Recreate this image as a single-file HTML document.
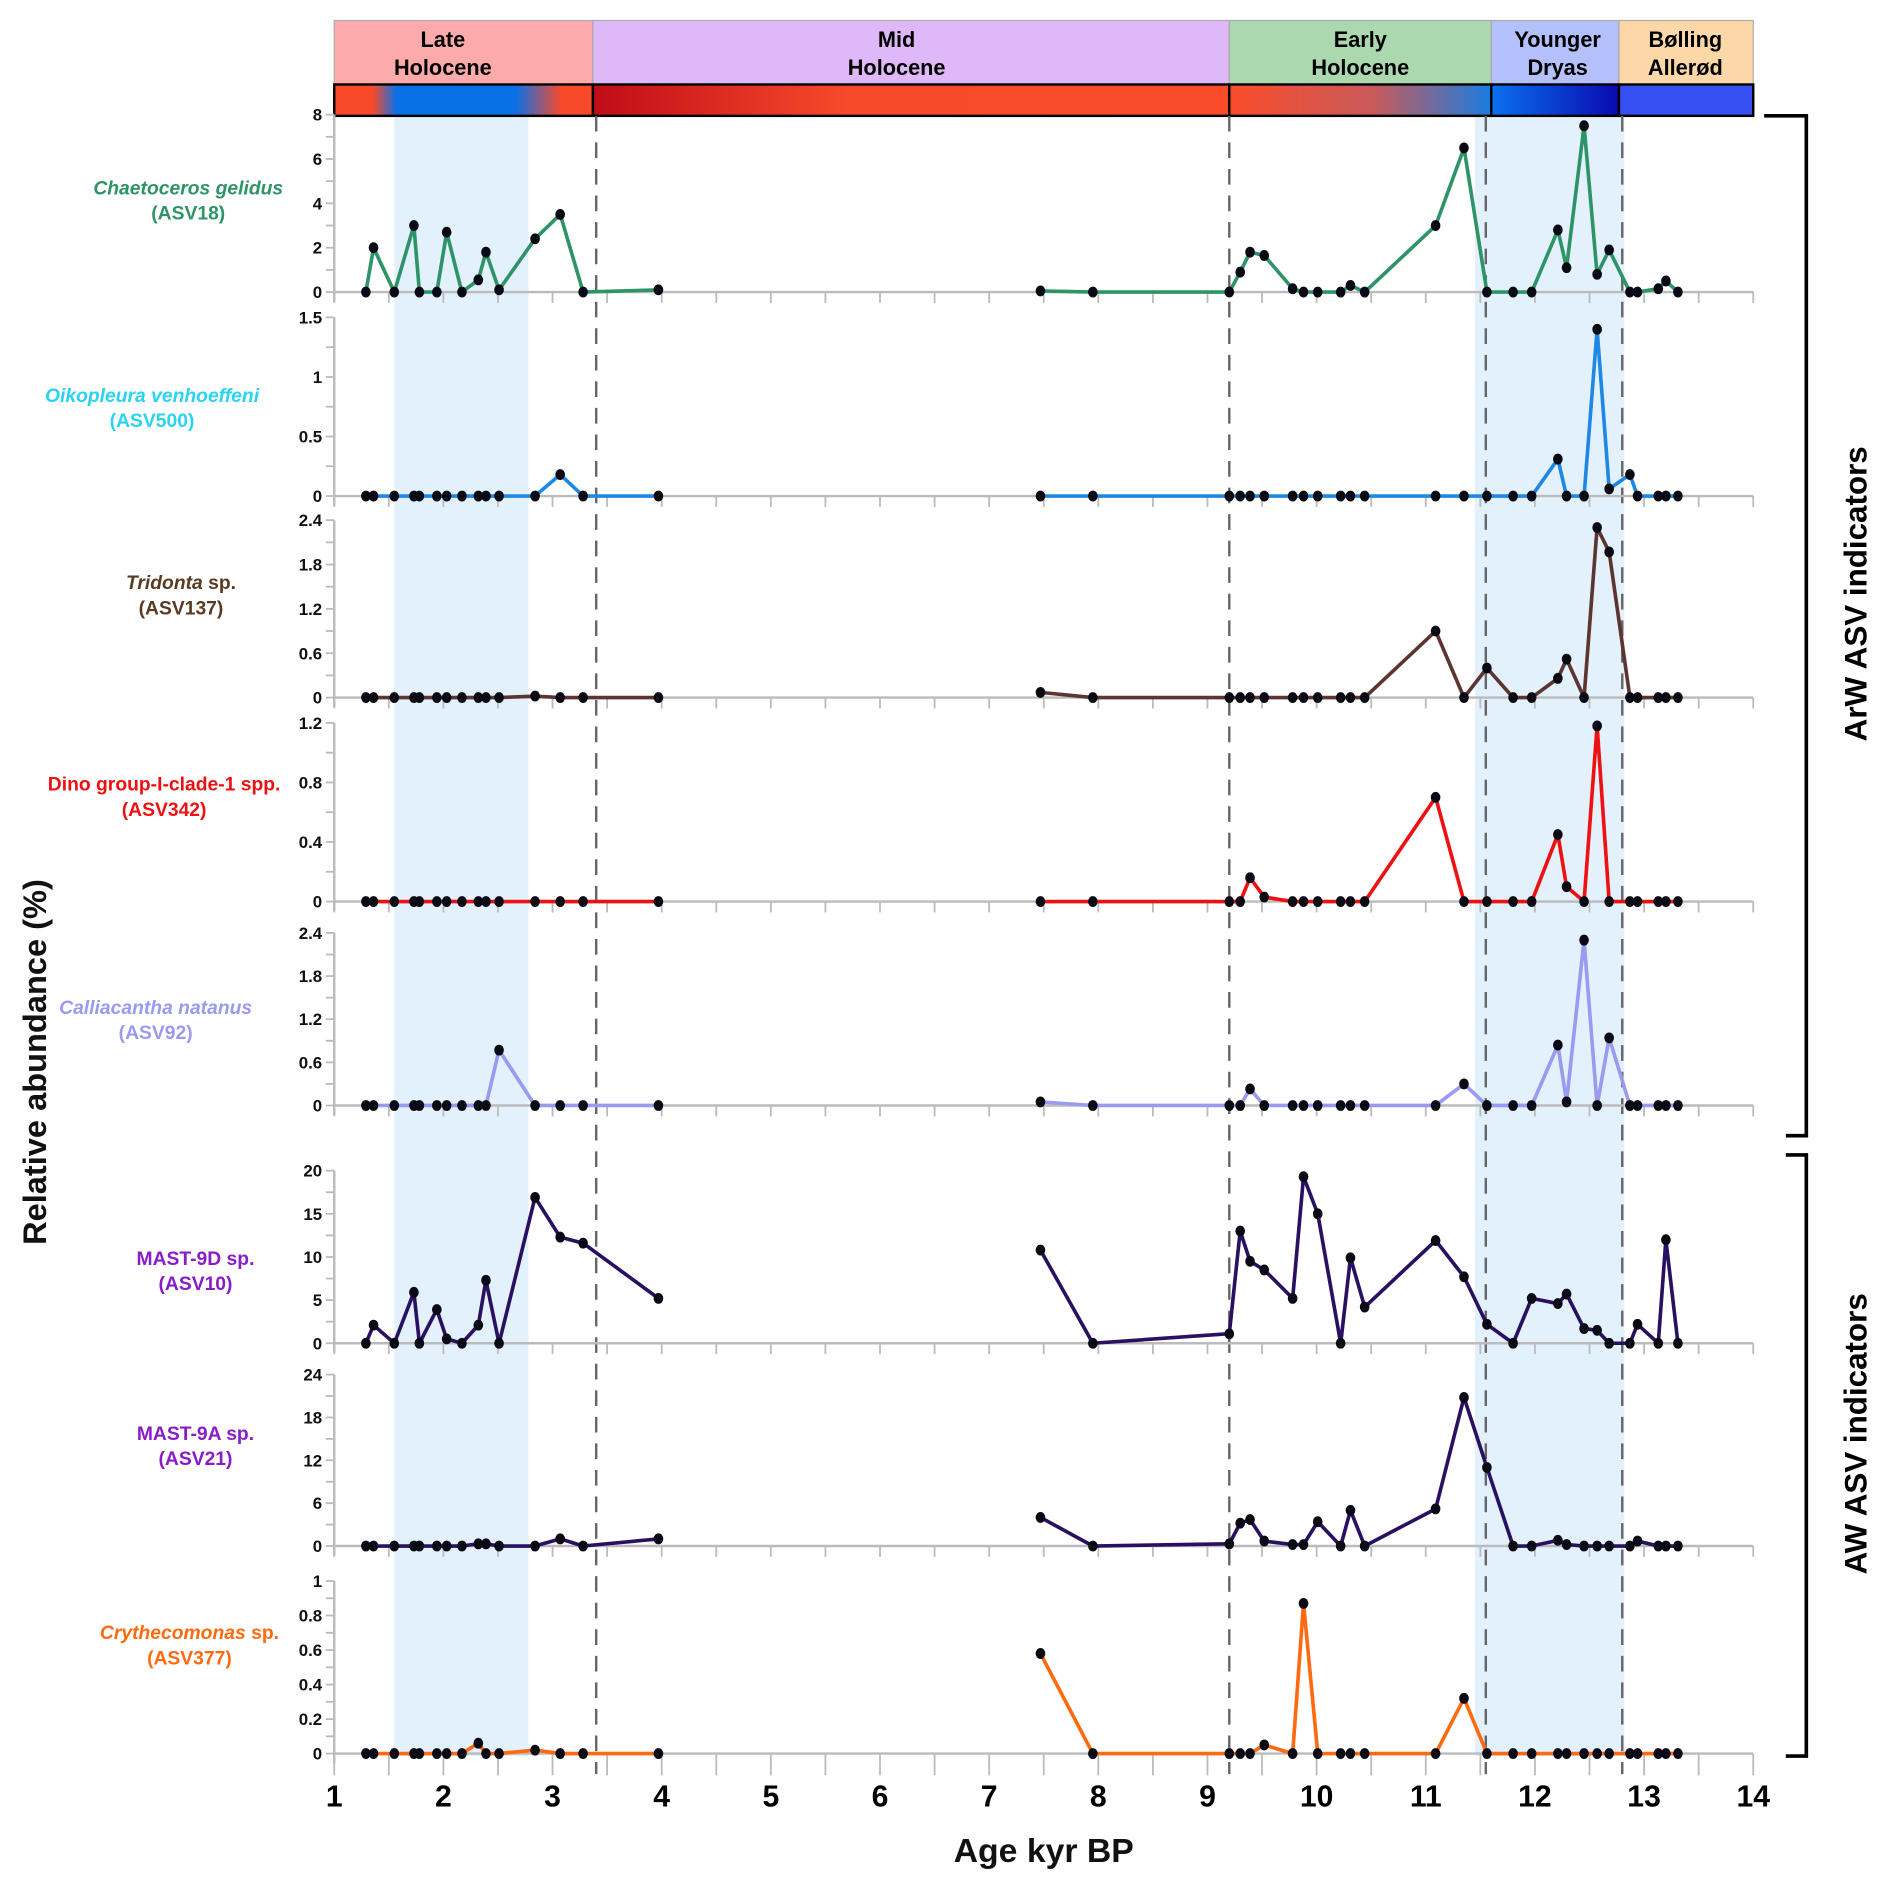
<!DOCTYPE html>
<html><head><meta charset="utf-8"><style>
html,body{margin:0;padding:0;background:#fff}
svg{display:block;font-family:"Liberation Sans",Arial,sans-serif;font-weight:bold}
</style></head><body>
<svg id="chart" width="1892" height="1896" viewBox="0 0 1568 1571" preserveAspectRatio="none" xmlns="http://www.w3.org/2000/svg">
<defs>
<linearGradient id="gLate" x1="0" x2="1"><stop offset="0.15" stop-color="#f84a2a"/><stop offset="0.24" stop-color="#0a70e8"/><stop offset="0.7" stop-color="#0a70e8"/><stop offset="0.88" stop-color="#f84a2a"/></linearGradient>
<linearGradient id="gMid" x1="0" x2="1"><stop offset="0" stop-color="#c00c18"/><stop offset="0.4" stop-color="#f84a2a"/><stop offset="1" stop-color="#fa4c2a"/></linearGradient>
<linearGradient id="gEarly" x1="0" x2="1"><stop offset="0" stop-color="#fa4c2a"/><stop offset="0.55" stop-color="#c85a5a"/><stop offset="1" stop-color="#1a7ce0"/></linearGradient>
<linearGradient id="gYD" x1="0" x2="1"><stop offset="0" stop-color="#0a70f0"/><stop offset="1" stop-color="#0a0ab0"/></linearGradient>
</defs>
<g id="plot"></g>
</svg>
<script>
const ages=[1.29,1.36,1.55,1.73,1.78,1.94,2.03,2.17,2.32,2.39,2.51,2.84,3.07,3.28,3.97,7.47,7.95,9.20,9.30,9.39,9.52,9.78,9.88,10.01,10.22,10.31,10.44,11.09,11.35,11.56,11.80,11.97,12.21,12.29,12.45,12.57,12.68,12.87,12.94,13.13,13.20,13.31];
const chaetoceros=[0,2.0,0,3.0,0,0,2.7,0,0.55,1.8,0.1,2.4,3.5,0,0.1,0.05,0,0,0.9,1.8,1.65,0.15,0,0,0,0.3,0,3.0,6.5,0,0,0,2.8,1.1,7.5,0.8,1.9,0,0,0.15,0.5,0];
const oikopleura=[0,0,0,0,0,0,0,0,0,0,0,0,0.18,0,0,0,0,0,0,0,0,0,0,0,0,0,0,0,0,0,0,0,0.31,0,0,1.4,0.06,0.18,0,0,0,0];
const tridonta=[0,0,0,0,0,0,0,0,0,0,0,0.02,0,0,0,0.07,0,0,0,0,0,0,0,0,0,0,0,0.9,0,0.4,0,0,0.26,0.52,0,2.3,1.97,0,0,0,0,0];
const dino=[0,0,0,0,0,0,0,0,0,0,0,0,0,0,0,0,0,0,0,0.16,0.03,0,0,0,0,0,0,0.7,0,0,0,0,0.45,0.1,0,1.18,0,0,0,0,0,0];
const calliacantha=[0,0,0,0,0,0,0,0,0,0,0.77,0,0,0,0,0.05,0,0,0,0.23,0,0,0,0,0,0,0,0,0.3,0,0,0,0.84,0.05,2.3,0,0.94,0,0,0,0,0];
const mast9d=[0,2.1,0,5.9,0,3.9,0.5,0,2.1,7.3,0,16.9,12.3,11.6,5.2,10.8,0,1.1,13,9.5,8.5,5.2,19.3,15,0,9.9,4.2,11.9,7.7,2.2,0,5.2,4.6,5.7,1.7,1.5,0,0,2.2,0,12,0];
const mast9a=[0,0,0,0,0,0,0,0,0.3,0.3,0,0,1.0,0,1.0,4,0,0.3,3.2,3.7,0.7,0.2,0.2,3.4,0,5,0,5.2,20.8,11,0,0,0.8,0.2,0,0,0,0,0.7,0,0,0];
const cryth=[0,0,0,0,0,0,0,0,0.06,0,0,0.02,0,0,0,0.58,0,0,0,0,0.05,0,0.87,0,0,0,0,0,0.32,0,0,0,0,0,0,0,0,0,0,0,0,0];
const xTicks=[1,2,3,4,5,6,7,8,9,10,11,12,13,14];
const gapAfterAge=3.97;

const NS="http://www.w3.org/2000/svg";
const g=document.getElementById('plot');
const X=a=>277+(a-1)*(1176/13);
function el(tag,attrs,parent){const e=document.createElementNS(NS,tag);for(const k in attrs)e.setAttribute(k,attrs[k]);(parent||g).appendChild(e);return e;}
function txt(s,attrs,parent){const e=el('text',attrs,parent);e.textContent=s;return e;}

let r;
r=el('rect',{x:X(1.55),y:96,width:X(2.78)-X(1.55),height:1359,fill:'#e3f1fd'});


r=el('rect',{x:X(11.45),y:96,width:X(12.82)-X(11.45),height:1359,fill:'#e3f1fd'});



const periods=[["Late","Holocene",1,3.37,'#fdaaaa','url(#gLate)'],["Mid","Holocene",3.37,9.2,'#deb8f8','url(#gMid)'],["Early","Holocene",9.2,11.6,'#acd8b0','url(#gEarly)'],["Younger","Dryas",11.6,12.77,'#b4c0fa','url(#gYD)'],["Bølling","Allerød",12.77,14,'#fcd8a8','#3650f2']];
periods.forEach((p,i)=>{
  const x0=X(p[2]),x1=X(p[3]);
  const hg=el('g',{});
  
  
  el('rect',{x:x0,y:17,width:x1-x0,height:53,fill:p[4],stroke:'#aaa','stroke-width':1},hg);
  el('rect',{x:x0,y:70,width:x1-x0,height:26,fill:p[5],stroke:'#000','stroke-width':2},hg);
  const cx=i==3?x0+55:i==4?x0+55:(i==0?x0+90:(x0+x1)/2+(i==2?0:-12));
  txt(p[0],{x:cx,y:39,'text-anchor':'middle','font-size':18},hg);
  txt(p[1],{x:cx,y:62,'text-anchor':'middle','font-size':18},hg);
});

[3.4,9.2,11.55,12.8].forEach(a=>{
  const l=el('line',{x1:X(a),x2:X(a),y1:96,y2:1470,stroke:'#666','stroke-width':2,'stroke-dasharray':'13,9'});
  
  
});

const panels=[
 {name:'chaetoceros',d:chaetoceros,y0:242,y1:95,max:8,ticks:[0,2,4,6,8],col:'#2e9467',lc:'#2e9467',l1:'Chaetoceros gelidus',l2:'(ASV18)',it:true,lx:156,ly:161},
 {name:'oikopleura',d:oikopleura,y0:411,y1:263,max:1.5,ticks:[0,0.5,1,1.5],col:'#1e88e5',lc:'#2ad4f0',l1:'Oikopleura venhoeffeni',l2:'(ASV500)',it:true,lx:126,ly:333},
 {name:'tridonta',d:tridonta,y0:578,y1:431,max:2.4,ticks:[0,0.6,1.2,1.8,2.4],col:'#5c3430',lc:'#5a3a20',l1:'Tridonta',l1b:' sp.',l2:'(ASV137)',it:true,lx:150,ly:488},
 {name:'dino',d:dino,y0:747,y1:599,max:1.2,ticks:[0,0.4,0.8,1.2],col:'#ee1111',lc:'#ee1111',l1:'Dino group-I-clade-1 spp.',l2:'(ASV342)',it:false,lx:136,ly:655},
 {name:'calliacantha',d:calliacantha,y0:916,y1:773,max:2.4,ticks:[0,0.6,1.2,1.8,2.4],col:'#9a9af0',lc:'#9a9af0',l1:'Calliacantha natanus',l2:'(ASV92)',it:true,lx:129,ly:840},
 {name:'mast9d',d:mast9d,y0:1113,y1:970,max:20,ticks:[0,5,10,15,20],col:'#2a1060',lc:'#8a1cc8',l1:'MAST-9D sp.',l2:'(ASV10)',it:false,lx:162,ly:1048},
 {name:'mast9a',d:mast9a,y0:1281,y1:1139,max:24,ticks:[0,6,12,18,24],col:'#2a1060',lc:'#8a1cc8',l1:'MAST-9A sp.',l2:'(ASV21)',it:false,lx:162,ly:1193},
 {name:'crythecomonas',d:cryth,y0:1453,y1:1310,max:1,ticks:[0,0.2,0.4,0.6,0.8,1],col:'#ff6a10',lc:'#ff6a10',l1:'Crythecomonas',l1b:' sp.',l2:'(ASV377)',it:true,lx:157,ly:1358}
];
panels.forEach((p,pi)=>{
  const Y=v=>p.y0-(v/p.max)*(p.y0-p.y1);
  const pg=el('g',{});
  
  
  el('line',{x1:277,x2:1453,y1:p.y0,y2:p.y0,stroke:'#bbb','stroke-width':2},pg);
  el('line',{x1:277,x2:277,y1:p.y1,y2:p.y0+8,stroke:'#bbb','stroke-width':2},pg);
  const last=pi==panels.length-1;
  for(let a=1;a<=14.001;a+=0.5){el('line',{x1:X(a),x2:X(a),y1:p.y0,y2:p.y0+(last?18:9),stroke:'#bbb','stroke-width':1.5},pg);}
  const step=p.ticks[1]-p.ticks[0];
  for(let v=0;v<=p.max+1e-9;v+=step/2){el('line',{x1:270,x2:277,y1:Y(v),y2:Y(v),stroke:'#bbb','stroke-width':1.5},pg);}
  p.ticks.forEach(v=>{
    const t=txt(String(v),{x:267,y:Y(v)+5,'text-anchor':'end','font-size':14,fill:'#111'},pg);
    
    
  });
  const t1=txt('',{x:p.lx,y:p.ly,'text-anchor':'middle','font-size':16,fill:p.lc},pg);
  
  
  const s1=el('tspan',{'font-style':p.it?'italic':'normal'},t1);s1.textContent=p.l1;
  if(p.l1b){const s2=el('tspan',{},t1);s2.textContent=p.l1b;}
  txt(p.l2,{x:p.lx,y:p.ly+21,'text-anchor':'middle','font-size':16,fill:p.lc},pg);
  // line segments with gap in record
  const segs=[[],[]];
  ages.forEach((a,i)=>{segs[a<=gapAfterAge?0:1].push(X(a).toFixed(1)+','+Y(p.d[i]).toFixed(1));});
  segs.forEach(s=>{
    const pl=el('polyline',{points:s.join(' '),fill:'none',stroke:p.col,'stroke-width':3,'stroke-linejoin':'round'},pg);
    
    
  });
  ages.forEach((a,i)=>{
    const c=el('ellipse',{cx:X(a),cy:Y(p.d[i]),rx:4,ry:4.5,fill:'#0a0a14'},pg);
    
    
  });
});

xTicks.forEach(v=>{
  const t=txt(String(v),{x:X(v),y:1497,'text-anchor':'middle','font-size':25,fill:'#000'});
  
  
});
let t=txt('Age kyr BP',{x:865,y:1543,'text-anchor':'middle','font-size':28,fill:'#111'});


t=txt('Relative abundance (%)',{x:0,y:0,'text-anchor':'middle','font-size':27,fill:'#111',transform:'translate(38,880) rotate(-90)'});



let b=el('path',{d:'M1462,96 L1497,96 L1497,941 L1480,941',fill:'none',stroke:'#000','stroke-width':3});


b=el('path',{d:'M1480,957 L1497,957 L1497,1455 L1480,1455',fill:'none',stroke:'#000','stroke-width':3});


t=txt('ArW ASV indicators',{x:0,y:0,'text-anchor':'middle','font-size':26,fill:'#000',transform:'translate(1547,492) rotate(-90)'});


t=txt('AW ASV indicators',{x:0,y:0,'text-anchor':'middle','font-size':26,fill:'#000',transform:'translate(1547,1188) rotate(-90)'});


</script>
</body></html>
